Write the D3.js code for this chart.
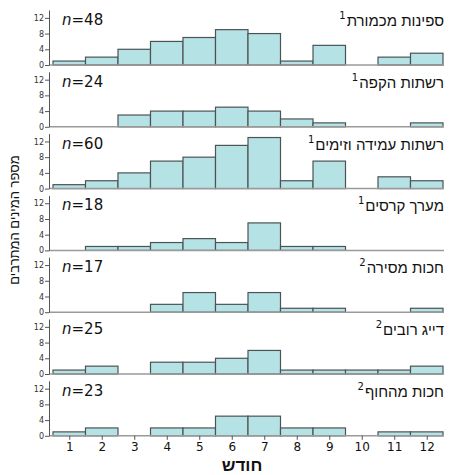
<!DOCTYPE html>
<html>
<head>
<meta charset="utf-8">
<script src="https://cdn.jsdelivr.net/npm/d3@7"></script>
<style>
  body { margin: 0; background: #fff; }
  text { font-family: "DejaVu Sans", Verdana, sans-serif; }
  .heb { font-family: "Liberation Sans", Arial, "DejaVu Sans", sans-serif; }
</style>
</head>
<body>
<div id="container"></div>
<script>
const WIDTH = 454;
const HEIGHT = 475;

const months = [1, 2, 3, 4, 5, 6, 7, 8, 9, 10, 11, 12];
const yTicks = [0, 4, 8, 12];

const titles = [
  'ספינות מכמורת',
  'רשתות הקפה',
  'רשתות עמידה וזימים',
  'מערך קרסים',
  'חכות מסירה',
  'דייג רובים',
  'חכות מהחוף'
];
const notes = ['1', '1', '1', '1', '2', '2', '2'];
const totals = [48, 24, 60, 18, 17, 25, 23];

const trawlers = [1, 2, 4, 6, 7, 9, 8, 1, 5, 0, 2, 3];
const purseSeine = [0, 0, 3, 4, 4, 5, 4, 2, 1, 0, 0, 1];
const gillNets = [1, 2, 4, 7, 8, 11, 13, 2, 7, 0, 3, 2];
const longlines = [0, 1, 1, 2, 3, 2, 7, 1, 1, 0, 0, 0];
const boatRods = [0, 0, 0, 2, 5, 2, 5, 1, 1, 0, 0, 1];
const spearfishing = [1, 2, 0, 3, 3, 4, 6, 1, 1, 1, 1, 2];
const shoreRods = [1, 2, 0, 2, 2, 5, 5, 2, 2, 0, 1, 1];

const series = [trawlers, purseSeine, gillNets, longlines, boatRods, spearfishing, shoreRods];

const yLabel = 'מספר המינים המתרבים';
const xLabel = 'חודש';

const LEFT = 49;
const RIGHT = 444;
const FIRST_BASE = 65;
const STEP = 61.8;
const PANEL_H = 55;

const svg = d3.select('#container')
              .append('svg')
                .attr('width', WIDTH)
                .attr('height', HEIGHT);

const x = d3.scaleLinear()
            .domain([0.5, 12.5])
            .range([53, 443]);

series.forEach((values, i) => {
    const base = FIRST_BASE + STEP * i;
    const y = d3.scaleLinear()
                .domain([0, 14])
                .range([base, base - PANEL_H]);

    const panel = svg.append('g');

    panel.selectAll('rect')
         .data(values.map((v, j) => ({ month: months[j], value: v })).filter(d => d.value > 0))
         .enter()
         .append('rect')
           .attr('x', d => x(d.month - 0.5))
           .attr('y', d => y(d.value))
           .attr('width', d => x(d.month + 0.5) - x(d.month - 0.5))
           .attr('height', d => y(0) - y(d.value))
           .attr('fill', '#b5e2e5')
           .attr('stroke', '#4d5355')
           .attr('stroke-width', 1.2);

    panel.append('line')
         .attr('x1', LEFT).attr('x2', RIGHT)
         .attr('y1', base).attr('y2', base)
         .attr('stroke', '#9a9a9a')
         .attr('stroke-width', 1.5);

    const axis = panel.append('g')
                      .attr('transform', `translate(${LEFT},0)`)
                      .call(d3.axisLeft(y).tickValues(yTicks).tickSize(4).tickSizeOuter(0).tickPadding(1));
    axis.select('.domain').attr('stroke', '#555');
    axis.selectAll('.tick line').attr('stroke', '#555');
    axis.selectAll('.tick text')
        .attr('font-size', 8)
        .attr('fill', '#333');

    const title = panel.append('text')
                       .attr('class', 'heb')
                       .attr('x', 444)
                       .attr('y', base - 39)
                       .attr('text-anchor', 'end')
                       .attr('font-size', 15)
                       .attr('fill', '#111')
                       .text(titles[i]);
    const tw = title.node().getComputedTextLength();
    panel.append('text')
         .attr('x', 444 - tw - 1)
         .attr('y', base - 46)
         .attr('text-anchor', 'end')
         .attr('font-size', 10)
         .attr('fill', '#111')
         .text(notes[i]);

    const n = panel.append('text')
                   .attr('x', 62)
                   .attr('y', base - 40)
                   .attr('font-size', 15)
                   .attr('fill', '#111');
    n.append('tspan').attr('font-style', 'italic').text('n');
    n.append('tspan').text(`=${totals[i]}`);
});

const lastBase = FIRST_BASE + STEP * (series.length - 1);
const xAxis = svg.append('g')
                 .attr('transform', `translate(0,${lastBase})`)
                 .call(d3.axisBottom(x).tickValues(months).tickSize(4).tickSizeOuter(0).tickPadding(3));
xAxis.select('.domain').remove();
xAxis.selectAll('.tick line').attr('stroke', '#555');
xAxis.selectAll('.tick text')
     .attr('font-size', 12)
     .attr('fill', '#111');

svg.append('text')
   .attr('class', 'heb')
   .attr('x', 242)
   .attr('y', 471)
   .attr('text-anchor', 'middle')
   .attr('font-size', 17)
   .attr('font-weight', 'bold')
   .attr('fill', '#111')
   .text(xLabel);

svg.append('text')
   .attr('class', 'heb')
   .attr('transform', 'translate(19,220) rotate(-90)')
   .attr('text-anchor', 'middle')
   .attr('font-size', 13)
   .attr('fill', '#111')
   .text(yLabel);
</script>
</body>
</html>
